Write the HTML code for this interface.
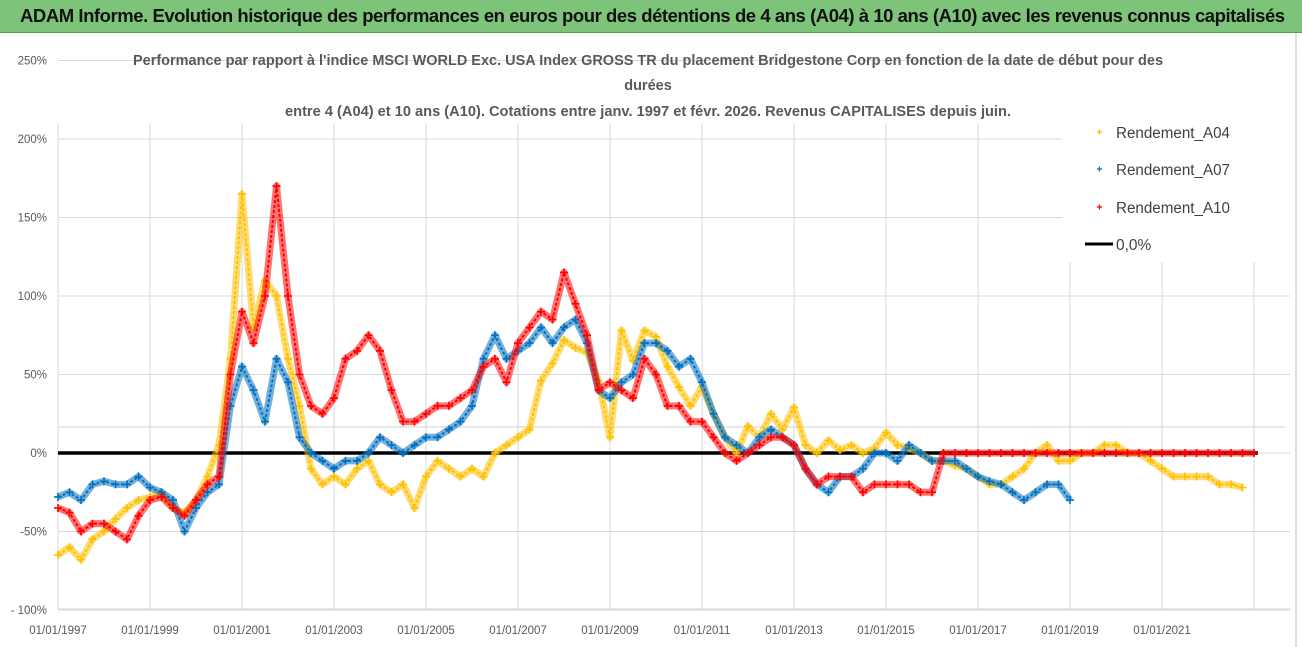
<!DOCTYPE html>
<html><head><meta charset="utf-8"><style>
body{margin:0;background:#fff;width:1302px;height:647px;overflow:hidden;font-family:"Liberation Sans",sans-serif}
#banner{position:absolute;left:0;top:0;width:1302px;height:32px;background:#7dc47a;border-bottom:1px solid #5a9a58}
#banner span{position:absolute;left:20px;top:5px;font-size:18.5px;font-weight:bold;color:#111;letter-spacing:-0.45px;white-space:nowrap}
svg{position:absolute;left:0;top:0}
</style></head><body>
<div id="banner"><span>ADAM Informe. Evolution historique des performances en euros pour des détentions de 4 ans (A04) à 10 ans (A10) avec les revenus connus capitalisés</span></div>
<svg id="chart" width="1302" height="647"></svg>
<script>
const startYear = 1997;
const xTickLabels = ["01/01/1997","01/01/1999","01/01/2001","01/01/2003","01/01/2005","01/01/2007","01/01/2009","01/01/2011","01/01/2013","01/01/2015","01/01/2017","01/01/2019","01/01/2021"];
const yTicks = [-100,-50,0,50,100,150,200,250];
const yTickLabels = ["- 100%","-50%","0%","50%","100%","150%","200%","250%"];
// quarterly values from 1997.00, step 0.25 year
const a04 = [-65,-60,-68,-55,-50,-42,-35,-30,-28,-25,-35,-38,-30,-15,5,60,
165,80,110,100,60,30,-10,-20,-15,-20,-10,-5,-20,-25,-20,-35,-15,-5,-10,-15,-10,-15,0,5,
10,15,46,57,72,67,64,46,10,78,59,78,74,55,42,30,42,25,10,0,17,10,25,15,29,5,0,8,2,5,0,3,13,5,3,0,
-5,-5,-8,-10,-15,-20,-20,-15,-10,0,5,-5,-5,0,0,5,5,0,0,-5,-10,-15,-15,-15,-15,-20,-20,-22];
const a07 = [-28,-25,-30,-20,-18,-20,-20,-15,-22,-25,-30,-50,-35,-25,-20,30,
55,40,20,60,45,10,0,-5,-10,-5,-5,0,10,5,0,5,10,10,15,20,30,60,75,60,
65,70,80,70,80,85,70,40,35,45,50,70,70,65,55,60,45,25,10,5,0,10,15,10,5,-10,-20,-25,-15,-15,-10,0,0,-5,5,0,
-5,-5,-5,-10,-15,-18,-20,-25,-30,-25,-20,-20,-30];
const a10 = [-35,-38,-50,-45,-45,-50,-55,-40,-30,-28,-35,-40,-30,-20,-15,50,
90,70,100,170,100,50,30,25,35,60,65,75,65,40,20,20,25,30,30,35,40,55,60,45,
70,80,90,85,115,95,75,40,45,40,35,60,50,30,30,20,20,10,0,-5,0,5,10,10,5,-10,-20,-15,-15,-15,-25,-20,-20,-20,-20,-25,-25,
0,0,0,0,0,0,0,0,0,0,0,0,0,0,0,0,0,0,0,0,0,0,0,0,0,0,0,0];

const NS="http://www.w3.org/2000/svg";
const svg=document.getElementById('chart');
const X0=58, PXY=46, Y0=453, PXP=78.5/50;
const xs=t=>X0+(t-startYear)*PXY;
const ys=v=>Y0-v*PXP;
function mk(tag,attrs,parent){const e=document.createElementNS(NS,tag);for(const k in attrs)e.setAttribute(k,attrs[k]);(parent||svg).appendChild(e);return e;}

yTicks.forEach((v,i)=>{
  const g=mk('line',{x1:58,x2:(ys(v)<265?1062:1290),y1:ys(v),y2:ys(v),stroke:'#d9d9d9','stroke-width':1});
  
  
  const t=mk('text',{x:47,y:ys(v)+4,'text-anchor':'end','font-size':11.5,fill:'#595959'});
  t.textContent=yTickLabels[i];
  
  
});
const extra=mk('line',{x1:58,x2:1285,y1:427,y2:427,stroke:'#d0d0d0','stroke-width':1});


xTickLabels.forEach((lab,i)=>{
  const x=xs(startYear+2*i);
  const g=mk('line',{x1:x,x2:x,y1:(x>1065?262:123),y2:609,stroke:'#d9d9d9','stroke-width':1});
  
  
  const t=mk('text',{x:x,y:634,'text-anchor':'middle','font-size':11.5,fill:'#595959'});
  t.textContent=lab;
  
  
});
const last=xs(startYear+2*xTickLabels.length);
const lg=mk('line',{x1:last,x2:last,y1:262,y2:609,stroke:'#d9d9d9'});


const ax=mk('line',{x1:58,x2:1290,y1:609,y2:609,stroke:'#d9d9d9'});


const rb=mk('line',{x1:1296,x2:1296,y1:33,y2:647,stroke:'#bfbfbf'});



const z=mk('line',{x1:58,x2:1258,y1:ys(0),y2:ys(0),stroke:'#000','stroke-width':3.5});



function series(vals,color,name){
  const g=mk('g',{});
  
  
  let d='';
  vals.forEach((v,i)=>{ if(v==null)return; const x=xs(startYear+i*0.25),y=ys(v); d+=(d?'L':'M')+x.toFixed(1)+','+y.toFixed(1); });
  mk('path',{d:d,fill:'none',stroke:color,'stroke-width':7,'stroke-linejoin':'round','stroke-opacity':0.55},g);
  mk('path',{d:d,fill:'none',stroke:color,'stroke-width':2,'stroke-linejoin':'round','stroke-dasharray':'3 2'},g);
  vals.forEach((v,i)=>{
    if(v==null)return;
    const x=xs(startYear+i*0.25),y=ys(v);
    const p=mk('path',{d:`M${x-4},${y}h8M${x},${y-4}v8`,stroke:color,'stroke-width':1.6},g);
    
    
  });
}
series(a04,'#ffc000','series-a04');
series(a07,'#0070c0','series-a07');
series(a10,'#ff0000','series-a10');

const titleLines=["Performance par rapport à l'indice MSCI WORLD Exc. USA Index GROSS TR  du placement Bridgestone Corp en fonction de la date de début pour des","durées","entre 4 (A04) et 10 ans (A10).  Cotations entre janv. 1997 et févr. 2026. Revenus CAPITALISES depuis juin."];
const tY=[65,90,116];
const tW=[1030,0,726];
titleLines.forEach((s,i)=>{
  const t=mk('text',{x:648,y:tY[i],'text-anchor':'middle','font-size':14.5,'font-weight':'bold',fill:'#595959'});
  if(tW[i]){t.setAttribute('textLength',tW[i]);t.setAttribute('lengthAdjust','spacingAndGlyphs');}
  t.textContent=s;
  
  
});

const legBg=mk('rect',{x:1075,y:115,width:214,height:146,fill:'#fff'});


const leg=[['Rendement_A04','#ffc000',132],['Rendement_A07','#0070c0',169],['Rendement_A10','#ff0000',207]];
leg.forEach(([n,c,y])=>{
  const g=mk('g',{});
  
  
  mk('path',{d:`M${1097},${y}h5M${1099.5},${y-2.5}v5`,stroke:c,'stroke-width':1.3},g);
  const t=mk('text',{x:1116,y:y+6,'font-size':15.5,fill:'#404040','textLength':114,'lengthAdjust':'spacingAndGlyphs'},g);
  t.textContent=n;
});
const g0=mk('g',{});


mk('line',{x1:1085,x2:1113,y1:244,y2:244,stroke:'#000','stroke-width':3},g0);
const t0=mk('text',{x:1116,y:250,'font-size':15.5,fill:'#404040'},g0);
t0.textContent='0,0%';
</script>
</body></html>
